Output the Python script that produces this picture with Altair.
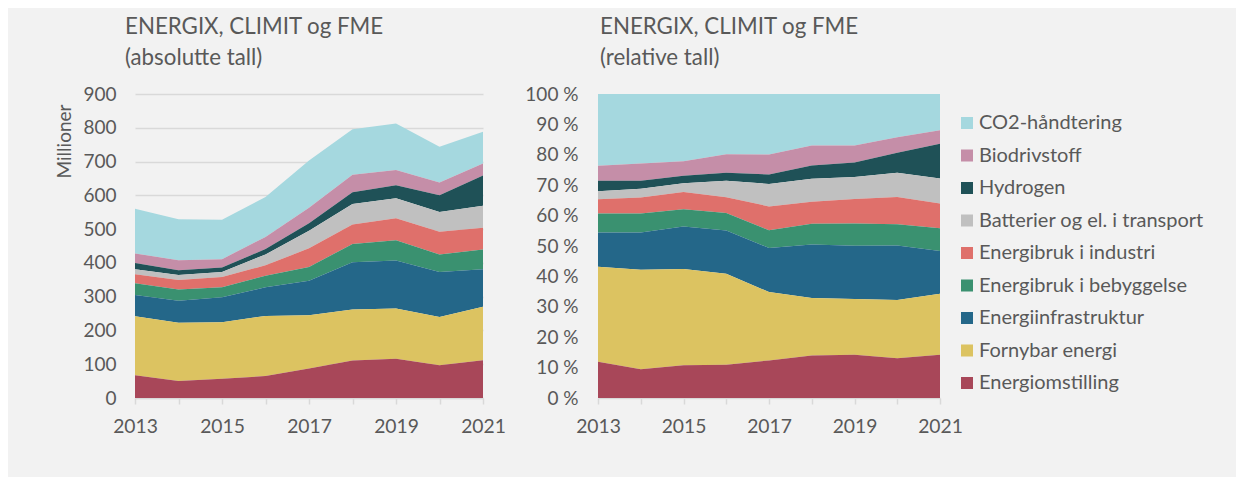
import altair as alt
import pandas as pd

years = [2013, 2014, 2015, 2016, 2017, 2018, 2019, 2020, 2021]
categories = ["CO2-håndtering", "Biodrivstoff", "Hydrogen",
              "Batterier og el. i transport", "Energibruk i industri",
              "Energibruk i bebyggelse", "Energiinfrastruktur",
              "Fornybar energi", "Energiomstilling"]
colors = ["#a5d8df", "#c58ea8", "#1f5157", "#c0c0c0", "#df706b",
          "#3a9170", "#246789", "#dcc361", "#a84759"]

co2 = [132, 121, 117, 118, 140, 135, 138, 106, 94]
bio = [28, 30, 25, 36, 46, 52, 45, 38, 35]
hyd = [19, 14, 13, 16, 22, 35, 39, 49, 90]
bat = [15, 15, 15, 32, 52, 60, 59, 59, 65]
ind = [26, 28, 30, 31, 55, 58, 65, 67, 64]
beb = [35, 33, 30, 34, 41, 54, 60, 52, 59]
infra = [63, 65, 74, 85, 102, 140, 142, 133, 111]
forn = [175, 173, 167, 178, 158, 151, 149, 143, 158]
oms = [67, 50, 57, 65, 87, 111, 116, 97, 112]

series = [co2, bio, hyd, bat, ind, beb, infra, forn, oms]
rows = []
for i, (cat, vals) in enumerate(zip(categories, series)):
    for y, v in zip(years, vals):
        rows.append({"year": y, "category": cat, "value": v,
                     "rank": len(categories) - 1 - i})
df = pd.DataFrame(rows)

FONT = "Lato"
TXT = "#595959"
GRID = "#d9d9d9"
XFS = 19.3
YFS = 19

xaxis = alt.Axis(values=years, format="d",
                 labelExpr="datum.value % 2 == 1 ? datum.label : ''",
                 title=None, grid=False, domainColor=GRID, domainWidth=1.5,
                 tickColor=GRID, tickWidth=1.5, tickSize=6, labelFlush=False,
                 labelFont=FONT, labelFontSize=XFS, labelColor=TXT,
                 labelPadding=13)

color_enc_left = alt.Color("category:N",
                           scale=alt.Scale(domain=categories, range=colors),
                           legend=None)
color_enc_right = alt.Color("category:N",
                            scale=alt.Scale(domain=categories, range=colors),
                            legend=alt.Legend(title=None, orient="none",
                                              legendX=359, legendY=19,
                                              padding=0,
                                              symbolType="square",
                                              symbolSize=144,
                                              symbolStrokeWidth=0,
                                              labelFont=FONT,
                                              labelFontSize=20,
                                              labelColor=TXT,
                                              labelLimit=0,
                                              labelOffset=2,
                                              rowPadding=12.5))

left = alt.Chart(df).mark_area(opacity=1).encode(
    x=alt.X("year:Q", scale=alt.Scale(domain=[2013, 2021], nice=False, zero=False), axis=xaxis),
    y=alt.Y("value:Q", stack="zero",
            scale=alt.Scale(domain=[0, 900], nice=False),
            axis=alt.Axis(values=list(range(0, 1000, 100)), title="Millioner",
                          grid=True, gridColor=GRID, gridWidth=1.5,
                          domain=False, ticks=False, labelPadding=19,
                          labelFont=FONT, labelFontSize=YFS, labelColor=TXT,
                          titleFont=FONT, titleFontSize=19, titleColor=TXT,
                          titleFontWeight="normal", titleX=-71, titleY=47,
                          titleAngle=270, titleAlign="center",
                          titleBaseline="middle")),
    color=color_enc_left,
    order=alt.Order("rank:Q", sort="ascending"),
).properties(
    width=348, height=304,
    title=alt.TitleParams(text=["ENERGIX, CLIMIT og FME", "(absolutte tall)"],
                          anchor="start", frame="group", dx=-10,
                          font=FONT, fontSize=22.3, fontWeight="normal",
                          color=TXT, lineHeight=31, offset=16),
)

right = alt.Chart(df).mark_area(opacity=1).encode(
    x=alt.X("year:Q", scale=alt.Scale(domain=[2013, 2021], nice=False, zero=False), axis=xaxis),
    y=alt.Y("value:Q", stack="normalize",
            scale=alt.Scale(domain=[0, 1], nice=False),
            axis=alt.Axis(values=[i / 10 for i in range(11)],
                          labelExpr="round(datum.value * 100) + ' %'",
                          title=None, grid=False, domain=False, ticks=False,
                          labelPadding=20, minExtent=70, maxExtent=70,
                          labelFont=FONT, labelFontSize=YFS, labelColor=TXT)),
    color=color_enc_right,
    order=alt.Order("rank:Q", sort="ascending"),
).properties(
    width=342, height=304,
    title=alt.TitleParams(text=["ENERGIX, CLIMIT og FME", "(relative tall)"],
                          anchor="start", frame="group", dx=2,
                          font=FONT, fontSize=22.3, fontWeight="normal",
                          color=TXT, lineHeight=31, offset=16),
)

chart = alt.hconcat(left, right, spacing=18).resolve_legend(
    color="independent"
).properties(
    background="#f2f2f2",
    padding={"left": 47, "top": 7, "right": 32, "bottom": 40},
).configure_view(stroke=None)

chart.save("out.html", embed_options={"renderer": "svg", "actions": False})
